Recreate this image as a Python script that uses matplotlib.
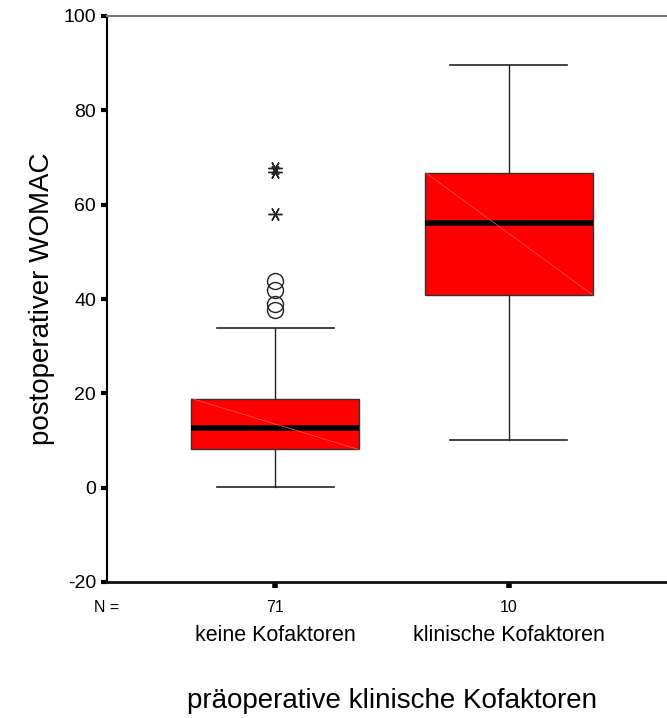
import matplotlib
matplotlib.use("Agg")
import matplotlib.pyplot as plt

plt.rcParams['font.family'] = ['Liberation Sans', 'DejaVu Sans']

# Summary statistics per group
groups = ["keine Kofaktoren", "klinische Kofaktoren"]
n_counts = [71, 10]
q1 = [8.1, 40.9]
medians = [12.7, 56.2]
q3 = [18.9, 66.8]
whisker_low = [0.2, 10.2]
whisker_high = [33.9, 89.7]

# Individual points beyond the whiskers (first group only)
outliers_g1 = [37.7, 39.0, 42.0, 43.8]
extremes_g1 = [58.1, 67.0, 67.7]

yticks = [-20, 0, 20, 40, 60, 80, 100]

W, H = 667, 718
fig = plt.figure(figsize=(W / 100, H / 100), dpi=100)
ax = fig.add_axes([107 / W, (H - 582) / H, 570 / W, 566 / H])

positions = [1, 2]
stats = []
for i in range(len(groups)):
    stats.append(dict(med=medians[i], q1=q1[i], q3=q3[i],
                      whislo=whisker_low[i], whishi=whisker_high[i],
                      fliers=[], label=groups[i]))

ax.bxp(stats, positions=positions, widths=0.714, patch_artist=True,
       showfliers=False,
       boxprops=dict(facecolor='#ff0000', edgecolor='#333333', linewidth=1.0),
       medianprops=dict(color='black', linewidth=4.0, solid_capstyle='butt'),
       whiskerprops=dict(color='#222222', linewidth=1.0),
       capprops=dict(color='#222222', linewidth=1.2),
       capwidths=0.5)

# faint diagonal across each box
for i, p in enumerate(positions):
    ax.plot([p - 0.357, p + 0.357], [q3[i], q1[i]], color='#ff5a5a',
            linewidth=0.5, zorder=3)

ax.plot([positions[0]] * len(outliers_g1), outliers_g1, linestyle='none',
        marker='o', markersize=11.5, markerfacecolor='none',
        markeredgecolor='#222222', markeredgewidth=1.0)
ax.plot([positions[0]] * len(extremes_g1), extremes_g1, linestyle='none',
        marker=(6, 2, 90), markersize=10, color='#222222',
        markeredgewidth=1.0)

ax.set_xlim(0.282, 2.718)
ax.set_ylim(-20, 100)
ax.set_yticks(yticks)
ax.set_yticklabels([str(v) for v in yticks], fontsize=14)
ax.set_xticks(positions)
ax.set_xticklabels(["", ""])
ax.tick_params(axis='y', length=4, width=3, color='black', pad=4)
ax.tick_params(axis='x', length=4, width=4, color='black', pad=2)

ax.spines['left'].set_linewidth(1.5)
ax.spines['left'].set_color('black')
ax.spines['bottom'].set_linewidth(2.0)
ax.spines['bottom'].set_color('#111111')
ax.spines['top'].set_linewidth(1.5)
ax.spines['top'].set_color('#777777')
ax.spines['right'].set_visible(False)

# N counts and category labels below the axis
fig.text(107 / W, 1 - 612 / H, "N =", fontsize=11.5, ha='center',
         va='baseline')
cat_px = [275, 509]
for i, px in enumerate(cat_px):
    fig.text(px / W, 1 - 612 / H, str(n_counts[i]), fontsize=11.5,
             ha='center', va='baseline')
    fig.text(px / W, 1 - 641 / H, groups[i], fontsize=15.5,
             ha='center', va='baseline')

fig.text(392 / W, 1 - 708 / H, "präoperative klinische Kofaktoren",
         fontsize=20, ha='center', va='baseline')
fig.text(42 / W, 1 - 299 / H, "postoperativer WOMAC", fontsize=20,
         rotation=90, ha='center', va='center')

fig.savefig("out.png", dpi=100)
